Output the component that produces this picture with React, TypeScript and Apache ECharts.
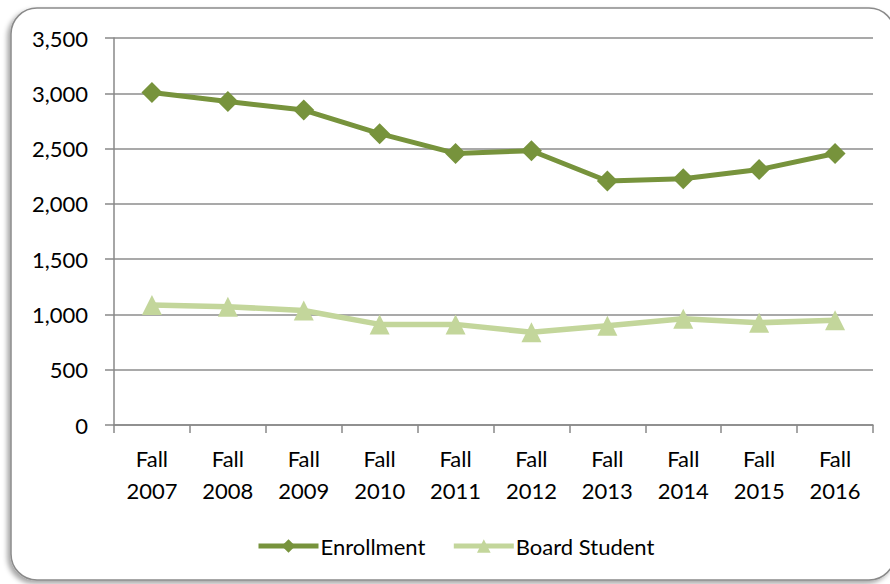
import React, { useEffect, useRef } from "react";
import * as echarts from "echarts";

const categories = ["Fall\n2007", "Fall\n2008", "Fall\n2009", "Fall\n2010", "Fall\n2011", "Fall\n2012", "Fall\n2013", "Fall\n2014", "Fall\n2015", "Fall\n2016"];
const enrollment = [3008, 2925, 2848, 2635, 2456, 2480, 2207, 2228, 2310, 2455];
const boardStudent = [1085, 1070, 1035, 910, 910, 838, 898, 960, 925, 948];
const yTicks = { min: 0, max: 3500, interval: 500 };

const FONT = "Lato, 'Open Sans', sans-serif";

export default function App() {
  const ref = useRef<HTMLDivElement>(null);
  useEffect(() => {
    if (!ref.current) return;
    const chart = echarts.init(ref.current, null, { renderer: "svg" });
    chart.setOption({
      animation: false,
      backgroundColor: "#ffffff",
      textStyle: { fontFamily: FONT },
      graphic: [
        {
          type: "rect",
          z: -10,
          silent: true,
          shape: { x: 11, y: 8, width: 884, height: 572, r: 26 },
          style: {
            fill: "#ffffff",
            stroke: "#8a8a8a",
            lineWidth: 1.5,
            shadowColor: "rgba(0,0,0,0.35)",
            shadowBlur: 5,
            shadowOffsetX: -3,
            shadowOffsetY: 3,
          },
        },
      ],
      grid: { left: 114, right: 17, top: 38, bottom: 159, containLabel: false },
      legend: {
        left: 251,
        top: 530,
        itemWidth: 60,
        itemHeight: 17,
        itemGap: 26,
        lineStyle: { width: 5 },
        textStyle: { fontFamily: FONT, fontSize: 22, color: "#000", padding: [0, 0, 0, -3] },
        data: ["Enrollment", "Board Student"],
      },
      xAxis: {
        type: "category",
        data: categories,
        boundaryGap: true,
        axisLine: { show: true, lineStyle: { color: "#888888", width: 1.5 } },
        axisTick: { show: true, length: 8, alignWithLabel: false, lineStyle: { color: "#888888", width: 1.5 } },
        axisLabel: {
          interval: 0,
          fontFamily: FONT,
          fontSize: 22,
          color: "#000",
          lineHeight: 32,
          margin: 17,
          align: "center",
        },
        splitLine: { show: false },
      },
      yAxis: {
        type: "value",
        min: yTicks.min,
        max: yTicks.max,
        interval: yTicks.interval,
        axisLine: { show: true, lineStyle: { color: "#888888", width: 1.5 } },
        axisTick: { show: true, inside: false, length: 9, lineStyle: { color: "#888888", width: 1.5 } },
        axisLabel: {
          fontFamily: FONT,
          fontSize: 22,
          color: "#000",
          margin: 26,
          formatter: (v: number) => v.toLocaleString("en-US"),
        },
        splitLine: { show: true, lineStyle: { color: "#8c8c8c", width: 1.5 } },
      },
      series: [
        {
          name: "Enrollment",
          type: "line",
          data: enrollment,
          symbol: "diamond",
          symbolSize: 21,
          color: "#77933C",
          lineStyle: { color: "#77933C", width: 5 },
          itemStyle: { color: "#77933C" },
          z: 3,
        },
        {
          name: "Board Student",
          type: "line",
          data: boardStudent,
          symbol: "triangle",
          symbolSize: 20,
          color: "#C3D69B",
          lineStyle: { color: "#C3D69B", width: 5.5 },
          itemStyle: { color: "#C3D69B" },
          z: 2,
        },
      ],
    });
    return () => chart.dispose();
  }, []);
  return (
    <div
      ref={ref}
      style={{ position: "fixed", left: 0, top: 0, width: 890, height: 584 }}
    />
  );
}
